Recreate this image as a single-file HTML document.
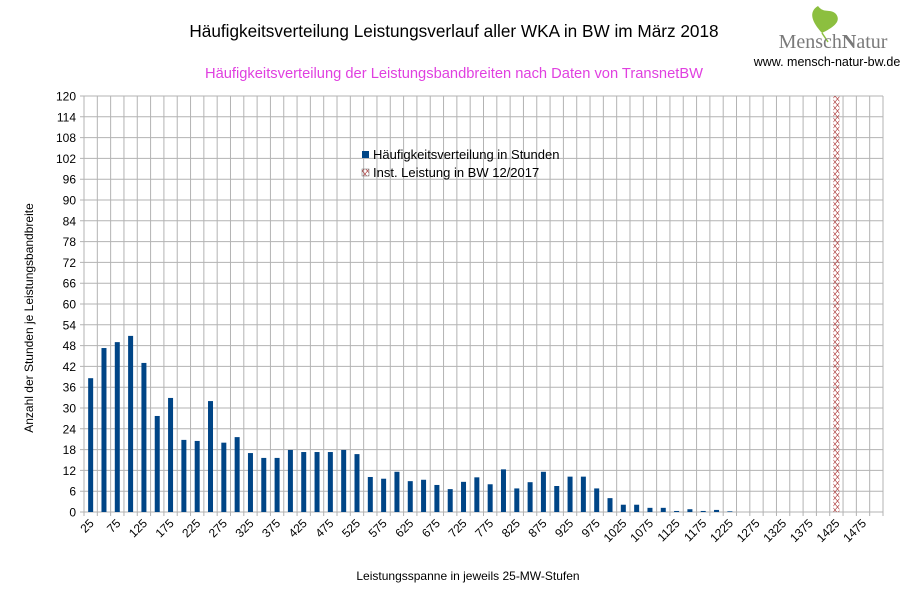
<!DOCTYPE html>
<html><head><meta charset="utf-8"><style>
body{margin:0;background:#fff;}
svg{display:block;font-family:"Liberation Sans",sans-serif;}
</style></head><body>
<svg width="907" height="605" viewBox="0 0 907 605" xmlns="http://www.w3.org/2000/svg">
<defs>
<pattern id="hx" width="5" height="6" patternUnits="userSpaceOnUse">
<path d="M0,0 L5,6 M5,0 L0,6" stroke="#a33" stroke-width="0.6"/>
</pattern>
</defs>
<text x="454" y="37" font-size="17.2" text-anchor="middle" fill="#000">Häufigkeitsverteilung Leistungsverlauf aller WKA in BW im März 2018</text>
<text x="454" y="78" font-size="14.7" text-anchor="middle" fill="#e040e0">Häufigkeitsverteilung der Leistungsbandbreiten nach Daten von TransnetBW</text>
<path d="M822,33 C812,22 808,12 818,6 C824,14 830,8 836,14 C842,22 832,28 822,33 Z" fill="#8cbf3f"/>
<path d="M822,33 L828,42" stroke="#8cbf3f" stroke-width="1.5"/>
<text x="833" y="48" font-size="20" font-family="Liberation Serif,serif" fill="#7a7a7a" text-anchor="middle">Mensch<tspan font-weight="bold">N</tspan>atur</text>
<text x="827" y="66" font-size="12.5" fill="#000" text-anchor="middle">www. mensch-natur-bw.de</text>
<g id="grid"></g>
<g id="bars"></g>
<g id="lbl"></g>
<text transform="translate(33,318) rotate(-90)" font-size="12" text-anchor="middle">Anzahl der Stunden je Leistungsbandbreite</text>
<text x="468" y="580" font-size="12" text-anchor="middle">Leistungsspanne in jeweils 25-MW-Stufen</text>
<rect x="362" y="151" width="7" height="7" fill="#004586"/>
<text x="373" y="159" font-size="13">Häufigkeitsverteilung in Stunden</text>
<rect x="362" y="169" width="7" height="7" fill="url(#hx)" stroke="#666" stroke-width="0.5"/>
<text x="373" y="177" font-size="13">Inst. Leistung in BW 12/2017</text>
</svg>
<script>
var ns="http://www.w3.org/2000/svg";
function el(p,t,a,txt){var e=document.createElementNS(ns,t);for(var k in a)e.setAttribute(k,a[k]);if(txt!=null)e.textContent=txt;document.getElementById(p).appendChild(e);return e;}
var x0=84,x1=883,y0=512,y1=96,n=60,cw=(x1-x0)/n,sy=(y0-y1)/120;
for(var v=0;v<=120;v+=6){var y=y0-v*sy;el("grid","line",{x1:x0-4,x2:x1,y1:y,y2:y,stroke:"#b3b3b3","stroke-width":1});
el("lbl","text",{x:76,y:y+4.5,"font-size":12,"text-anchor":"end"},v);}
for(var i=0;i<=n;i++){var x=x0+i*cw;el("grid","line",{x1:x,x2:x,y1:y1,y2:y0+4,stroke:"#b3b3b3","stroke-width":1});}
var d=[38.6,47.3,49,50.8,43,27.7,32.9,20.8,20.5,32,20,21.6,17,15.6,15.6,17.9,17.3,17.3,17.3,17.9,16.7,10.1,9.6,11.6,8.9,9.3,7.8,6.6,8.7,10,8,12.3,6.8,8.6,11.6,7.5,10.2,10.2,6.8,4,2.1,2.1,1.2,1.2,0.3,0.8,0.3,0.6,0.2];
for(var i=0;i<d.length;i++){var cx=x0+(i+0.5)*cw;el("bars","rect",{x:cx-2.5,y:y0-d[i]*sy,width:5,height:d[i]*sy,fill:"#004586"});}
var cx=x0+56.5*cw;el("bars","rect",{x:cx-3,y:y1,width:6,height:y0-y1,fill:"url(#hx)"});
for(var i=0;i<n;i+=2){var cx=x0+(i+0.5)*cw;el("lbl","text",{"font-size":12,"text-anchor":"end",transform:"translate("+(cx+4)+","+(y0+12)+") rotate(-45)"},25*(i+1));}
</script>
</body></html>
